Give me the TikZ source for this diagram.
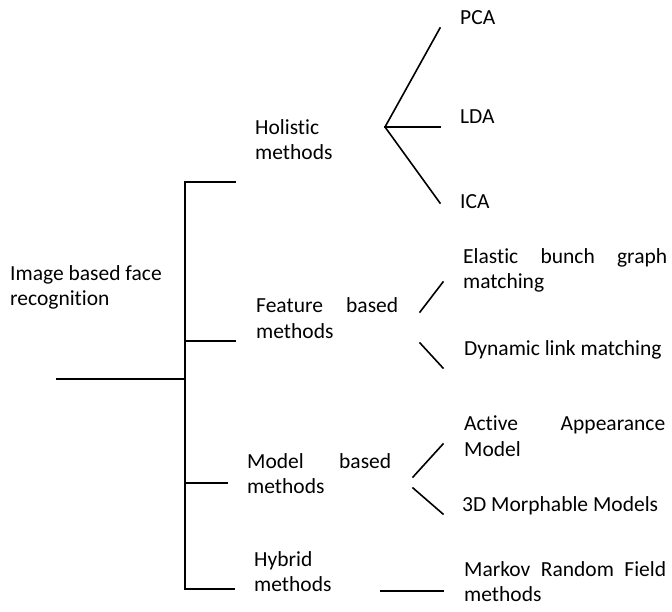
\documentclass[tikz,border=0pt]{standalone}
\usepackage{fontspec}
\setmainfont{Carlito}[Ligatures=NoCommon]
\tikzset{
  lbl/.style={anchor=west, inner sep=0pt, align=left, font=\fontsize{21.5}{25.5}\selectfont},
  wide/.style={lbl, text width=#1},
  branch/.style={line width=1.6pt, line cap=rect},
}
\begin{document}
\begin{tikzpicture}[x=1pt, y=-1pt]
  \useasboundingbox (0,0) rectangle (672,611);
  \node[lbl] (image) at(10,287.5){Image based face\\recognition};
  \node[lbl] (holistic) at(255,139.5){Holistic\\methods};
  \node[wide=142pt] (feature) at(256,318){Feature\hfill based\\methods};
  \node[wide=144pt] (model) at(247,473.5){Model\hfill based\\methods};
  \node[lbl] (hybrid) at(254,571.5){Hybrid\\methods};
  \node[lbl] (pca) at(460,18){PCA};
  \node[lbl] (lda) at(460,117){LDA};
  \node[lbl] (ica) at(460,202){ICA};
  \node[wide=204pt] (ebgm) at(463,270.5){Elastic\hfill bunch\hfill graph\\matching};
  \node[lbl] (dlm) at(464,350){Dynamic link matching};
  \node[wide=201pt] (aam) at(464,436){Active\hfill Appearance\\Model};
  \node[lbl] (morph) at(462,506){3D Morphable Models};
  \node[wide=202pt] (mrf) at(464,581.5){Markov\hfill Random\hfill Field\\methods};
  \coordinate (root) at(57,379);
  \coordinate (root-j) at(185,379);
  \coordinate (hol-j) at(185,182);
  \coordinate (hol-e) at(235,182);
  \coordinate (feat-j) at(185,341);
  \coordinate (feat-e) at(235,341);
  \coordinate (mod-j) at(185,483);
  \coordinate (mod-e) at(227,483);
  \coordinate (hyb-j) at(185,589);
  \coordinate (hyb-e) at(234,589);
  \coordinate (fan) at(385,127);
  \coordinate (pca-e) at(440,28);
  \coordinate (lda-e) at(440,127);
  \coordinate (ica-e) at(440,203);
  \coordinate (ebgm-a) at(420,312);
  \coordinate (ebgm-b) at(443,282);
  \coordinate (dlm-a) at(420,343);
  \coordinate (dlm-b) at(443,368);
  \coordinate (aam-a) at(413,477);
  \coordinate (aam-b) at(443,444);
  \coordinate (morph-a) at(413,488);
  \coordinate (morph-b) at(443,514);
  \coordinate (mrf-a) at(381,591);
  \coordinate (mrf-b) at(443,591);
  \draw[branch] (root) -- (root-j);
  \draw[branch] (hol-e) -- (hol-j) -- (hyb-j) -- (hyb-e);
  \draw[branch] (feat-j) -- (feat-e);
  \draw[branch] (mod-j) -- (mod-e);
  \draw[branch] (pca-e) -- (fan) -- (ica-e);
  \draw[branch] (fan) -- (lda-e);
  \draw[branch] (ebgm-a) -- (ebgm-b);
  \draw[branch] (dlm-a) -- (dlm-b);
  \draw[branch] (aam-a) -- (aam-b);
  \draw[branch] (morph-a) -- (morph-b);
  \draw[branch] (mrf-a) -- (mrf-b);
\end{tikzpicture}
\end{document}
